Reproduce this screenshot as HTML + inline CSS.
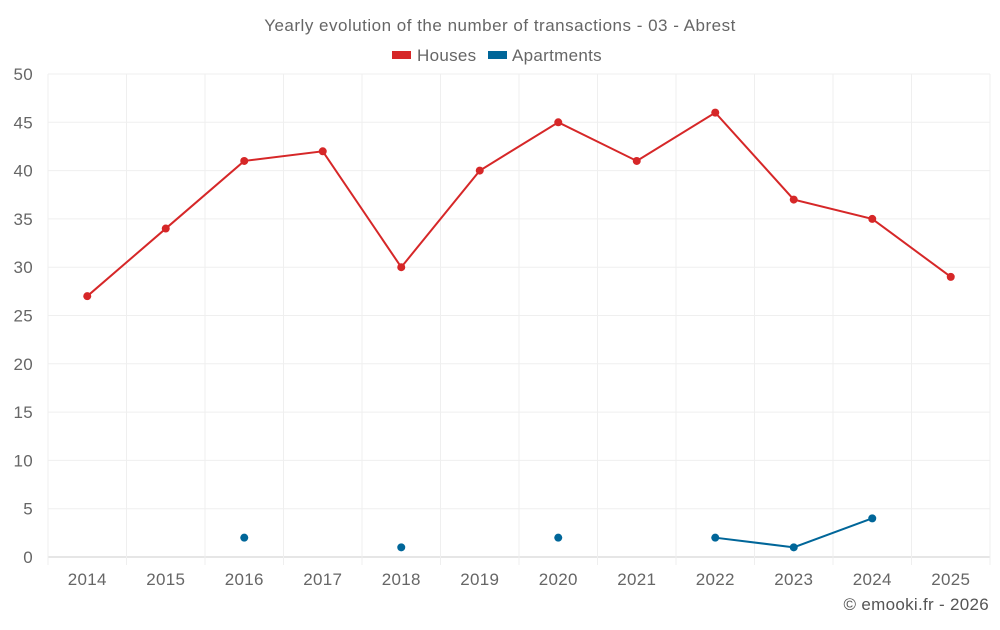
<!DOCTYPE html>
<html><head><meta charset="utf-8"><style>
body{margin:0;background:#fff;font-family:"Liberation Sans",sans-serif;}
svg text{font-family:"Liberation Sans",sans-serif;letter-spacing:0.3px;}
</style></head><body>
<svg id="chart" width="1000" height="625">
<text x="500" y="31" text-anchor="middle" font-size="17" fill="#666" style="letter-spacing:0.5px">Yearly evolution of the number of transactions - 03 - Abrest</text>
<g>
<g><rect x="392" y="51" width="19" height="8" fill="#d62728"/><text x="417" y="61" font-size="17" fill="#666">Houses</text></g>
<g><rect x="488" y="51" width="19" height="8" fill="#006699"/><text x="512" y="61" font-size="17" fill="#666">Apartments</text></g>
</g>
<g id="grid"></g><g id="axes"></g><g id="series"></g>
<text x="989" y="610" text-anchor="end" font-size="17" fill="#555">© emooki.fr - 2026</text>
</svg>
<script>
const years=["2014","2015","2016","2017","2018","2019","2020","2021","2022","2023","2024","2025"];
const houses=[27,34,41,42,30,40,45,41,46,37,35,29];
const apartments=[null,null,2,null,1,null,2,null,2,1,4,null];
const yTicks=[0,5,10,15,20,25,30,35,40,45,50];
const L=48,R=990,T=74,B=557,yMax=50;
const step=(R-L)/years.length;
const X=i=>L+step*(i+0.5);
const Y=v=>B-(B-T)*v/yMax;
const NS="http://www.w3.org/2000/svg";
function mk(p,tag,a){const e=document.createElementNS(NS,tag);for(const k in a)e.setAttribute(k,a[k]);p.appendChild(e);return e;}
const g=document.getElementById('grid'),ax=document.getElementById('axes'),s=document.getElementById('series');
yTicks.forEach(v=>{
 const l=mk(g,'line',{x1:L,x2:R,y1:Y(v),y2:Y(v),stroke:v===0?'#ccc':'#efefef'});
 
 
 const t=mk(ax,'text',{x:33,y:Y(v)+6,'text-anchor':'end','font-size':17,fill:'#666'});t.textContent=v;
 
 
});
for(let i=0;i<=years.length;i++){
 const x=L+step*i;
 const l=mk(g,'line',{x1:x,x2:x,y1:T,y2:B+8,stroke:'#efefef'});
 
 
}
years.forEach((y,i)=>{
 const t=mk(ax,'text',{x:X(i),y:585,'text-anchor':'middle','font-size':17,fill:'#666'});t.textContent=y;
 
 
});
function draw(data,color,name){
 let seg=[];const segs=[];
 data.forEach((v,i)=>{if(v==null){if(seg.length)segs.push(seg);seg=[];}else seg.push([X(i),Y(v)]);});
 if(seg.length)segs.push(seg);
 segs.forEach(sg=>{if(sg.length>1){const p=mk(s,'polyline',{points:sg.map(q=>q.join(',')).join(' '),fill:'none',stroke:color,'stroke-width':2});
  
  }});
 data.forEach((v,i)=>{if(v==null)return;const c=mk(s,'circle',{cx:X(i),cy:Y(v),r:4,fill:color});
  
  });
}
draw(houses,'#d62728','houses');
draw(apartments,'#006699','apartments');
</script>
</body></html>
